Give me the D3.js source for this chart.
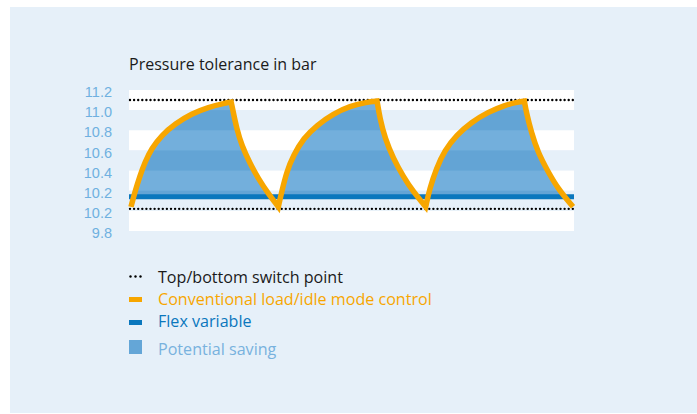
<!DOCTYPE html>
<html><head><meta charset="utf-8">
<script src="https://cdn.jsdelivr.net/npm/d3@7"></script>
<style>html,body{margin:0;padding:0;background:#fff}svg{display:block}</style>
</head><body>
<script>
// ---- data ----
const title = "Pressure tolerance in bar";
const yTickValues = [11.2, 11.0, 10.8, 10.6, 10.4, 10.2, 10.0, 9.8];
const yTickLabels = ["11.2", "11.0", "10.8", "10.6", "10.4", "10.2", "10.2", "9.8"];
const time = [0, 0.27, 0.61, 0.95, 1.40, 2.08, 2.99, 4.12, 5.25, 6.38, 6.8,
  6.94, 7.17, 7.51, 8.08, 8.64, 9.32, 10.0,
  10.23, 10.57, 11.02, 11.70, 12.61, 13.74, 14.87, 16.0, 16.7,
  16.90, 17.24, 17.80, 18.48, 19.16, 20.0,
  20.27, 20.72, 21.29, 22.08, 23.10, 24.23, 25.36, 26.27, 26.7,
  26.83, 27.17, 27.62, 28.30, 28.98, 30.0];
const conventional = [10.04, 10.19, 10.35, 10.485, 10.62, 10.75, 10.865, 10.965, 11.03, 11.07, 11.08,
  10.98, 10.82, 10.65, 10.47, 10.32, 10.17, 10.04,
  10.19, 10.39, 10.55, 10.72, 10.85, 10.965, 11.04, 11.08, 11.09,
  10.915, 10.72, 10.52, 10.34, 10.19, 10.04,
  10.22, 10.42, 10.60, 10.75, 10.88, 10.98, 11.05, 11.08, 11.09,
  10.98, 10.78, 10.58, 10.39, 10.22, 10.04];
const flexVariable = 10.14;
const switchPoints = [11.1, 10.02];
const legendLabels = ["Top/bottom switch point", "Conventional load/idle mode control", "Flex variable", "Potential saving"];

// ---- style ----
const W = 697, H = 414;
const C = {
  panel: "#e6f0f9", white: "#ffffff", fill: "#73afdc", fillDark: "#63a4d5",
  flex: "#0a77bd", orange: "#f7a600", tick: "#6fb0e0", text: "#1a1a1a",
  saveText: "#78b2de", saveBox: "#64a6d7"
};
const FONT = "'Open Sans', 'Noto Sans', sans-serif";

const svg = d3.select("body").append("svg").attr("width", W).attr("height", H);
svg.append("rect").attr("x", 10).attr("y", 7).attr("width", W - 10).attr("height", 406).attr("fill", C.panel);

const x = d3.scaleLinear().domain([0, 30]).range([131, 573]);
const y = d3.scaleLinear().domain([9.8, 11.2]).range([231, 90]);
const fx0 = x.range()[0] - 2, fx1 = x.range()[1] + 1;

// title
svg.append("text").attr("x", 129).attr("y", 70).text(title)
  .attr("font-family", FONT).attr("font-size", 16).attr("fill", C.text);

// bands
const bands = d3.pairs(yTickValues).map((p, i) => ({ top: p[0], bot: p[1], light: i % 2 === 1 }));
svg.append("g").selectAll("rect").data(bands).join("rect")
  .attr("x", fx0).attr("width", fx1 - fx0)
  .attr("y", d => y(d.top)).attr("height", d => y(d.bot) - y(d.top))
  .attr("fill", d => d.light ? C.panel : C.white);

// line generation (segment-wise to keep cusps)
const pts = time.map((t, i) => [t, conventional[i]]);
const segs = [];
let cur = [pts[0]], dir = 0;
for (let i = 1; i < pts.length; i++) {
  const d = Math.sign(pts[i][1] - pts[i - 1][1]);
  if (dir !== 0 && d !== dir) { segs.push(cur); cur = [pts[i - 1]]; }
  cur.push(pts[i]); dir = d;
}
segs.push(cur);
const lineGen = d3.line().x(d => x(d[0])).y(d => y(d[1])).curve(d3.curveBasis);
const linePath = segs.map((s, i) => { const p = lineGen(s); return i === 0 ? p : "L" + p.slice(1); }).join("");
const areaPath = linePath + `L${x(30)},${y(9.8)}L${x(0)},${y(9.8)}Z`;

const defs = svg.append("defs");
defs.append("clipPath").attr("id", "aboveFlex").append("rect")
  .attr("x", fx0).attr("y", y(11.2)).attr("width", fx1 - fx0).attr("height", y(flexVariable) - y(11.2));
defs.append("clipPath").attr("id", "areaClip").append("path").attr("d", areaPath);

svg.append("path").attr("d", areaPath).attr("fill", C.fill).attr("clip-path", "url(#aboveFlex)");
svg.append("g").attr("clip-path", "url(#areaClip)").selectAll("rect")
  .data(bands.filter(b => b.light)).join("rect")
  .attr("x", fx0).attr("width", fx1 - fx0)
  .attr("y", d => y(d.top))
  .attr("height", d => Math.max(0, Math.min(y(d.bot), y(flexVariable)) - y(d.top)))
  .attr("fill", C.fillDark);

// flex variable
svg.append("line").attr("x1", fx0).attr("x2", fx1).attr("y1", y(flexVariable)).attr("y2", y(flexVariable))
  .attr("stroke", C.flex).attr("stroke-width", 5);

// switch points
svg.append("g").selectAll("line").data(switchPoints).join("line")
  .attr("x1", fx0 + 1).attr("x2", fx1).attr("y1", d => y(d)).attr("y2", d => y(d))
  .attr("stroke", "#000").attr("stroke-width", 2.4).attr("stroke-linecap", "round").attr("stroke-dasharray", "0,4.1");

// conventional line
svg.append("path").attr("d", linePath).attr("fill", "none").attr("stroke", C.orange)
  .attr("stroke-width", 5.5).attr("stroke-linejoin", "miter").attr("stroke-miterlimit", 6);

// y axis
const ax = svg.append("g").attr("transform", `translate(${fx0},0)`)
  .call(d3.axisLeft(y).tickValues(yTickValues).tickFormat((d, i) => yTickLabels[i]).tickSize(0).tickPadding(17));
ax.select(".domain").remove();
ax.selectAll("text").attr("y", 2).attr("fill", C.tick)
  .attr("font-family", "'Liberation Sans Narrow', 'Arial Narrow', sans-serif").attr("font-size", 14.5);

// legend
const lg = svg.append("g").attr("font-family", FONT).attr("font-size", 16.1);
const rows = [282.7, 304.7, 327.3, 355];
const colors = [C.text, C.orange, C.flex, C.saveText];
lg.selectAll("text").data(legendLabels).join("text")
  .attr("x", 158).attr("y", (d, i) => rows[i]).attr("fill", (d, i) => colors[i]).text(d => d);
lg.append("g").selectAll("circle").data([0, 1, 2]).join("circle")
  .attr("cx", d => 130.5 + d * 5).attr("cy", 276.5).attr("r", 1.2).attr("fill", "#000");
lg.append("rect").attr("x", 129).attr("y", 297).attr("width", 13).attr("height", 5).attr("fill", C.orange);
lg.append("rect").attr("x", 129).attr("y", 320).attr("width", 13).attr("height", 5).attr("fill", C.flex);
lg.append("rect").attr("x", 129).attr("y", 340).attr("width", 13).attr("height", 14).attr("fill", C.saveBox);
</script>
</body></html>
